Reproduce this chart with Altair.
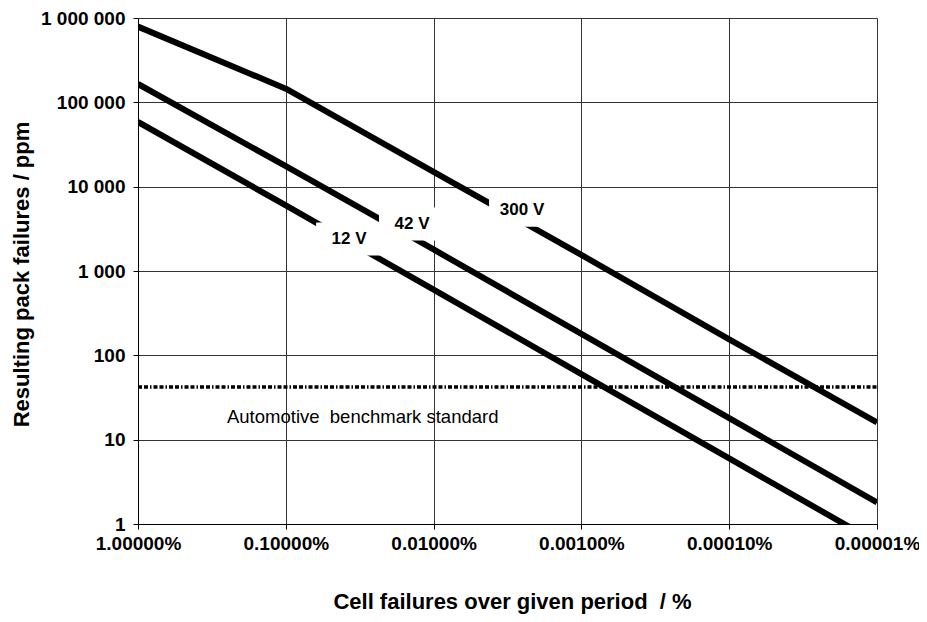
import altair as alt
import pandas as pd

# ---- data ----
cell_fail_pct = [1, 0.1, 0.01, 0.001, 0.0001, 0.00001]
pack_300v = [790000, 145000, 15000, 1550, 155, 16]
pack_42v = [165000, 17500, 1800, 180, 18, 1.8]
pack_12v = [58500, 6000, 600, 60, 6, 0.6]
series_names = ["300 V", "42 V", "12 V"]

benchmark_ppm = 42
bench_x = [1, 0.00001]
bench_text = "Automotive\u00a0 benchmark standard"
bench_text_x = 0.25
bench_text_y = 18.5

label_x = [0.00252, 0.0140, 0.0373]
label_y = [5270, 3600, 2390]

x_ticks = [1, 0.1, 0.01, 0.001, 0.0001, 0.00001]
y_ticks = [1, 10, 100, 1000, 10000, 100000, 1000000]

# ---- tables ----
rows = []
for name, vals in zip(series_names, [pack_300v, pack_42v, pack_12v]):
    for xv, yv in zip(cell_fail_pct, vals):
        rows.append({"series": name, "x": xv, "y": yv})
lines_df = pd.DataFrame(rows)
bench_df = pd.DataFrame({"x": bench_x, "y": [benchmark_ppm] * len(bench_x)})
labels_df = pd.DataFrame({"label": series_names, "x": label_x, "y": label_y})
btext_df = pd.DataFrame({"label": [bench_text], "x": [bench_text_x], "y": [bench_text_y]})

FONT = "Liberation Sans"

xscale = alt.Scale(type="log", domain=[0.00001, 1], reverse=True, nice=False)
yscale = alt.Scale(type="log", domain=[1, 1000000], nice=False)

x_axis = alt.Axis(
    values=x_ticks,
    labelExpr="format(datum.value, '.5f') + '%'",
    title="Cell failures over given period\u00a0 / %",
    grid=True, gridColor="#333333", gridWidth=1, gridOpacity=1,
    domain=True, domainColor="#000000", domainWidth=1,
    ticks=True, tickSize=5, tickColor="#000000",
    labelFont=FONT, labelFontSize=19, labelFontWeight="bold", labelColor="#000000",
    labelPadding=5, labelFlush=False, labelOverlap=False,
    titleFont=FONT, titleFontSize=22, titleFontWeight="bold", titleColor="#000000",
    titleX=374, titleY=84, titleBaseline="alphabetic", titleAlign="center",
)
y_axis = alt.Axis(
    values=y_ticks,
    labelExpr="replace(format(datum.value, ','), regexp(',', 'g'), ' ')",
    title="Resulting pack failures / ppm",
    grid=True, gridColor="#333333", gridWidth=1, gridOpacity=1,
    domain=True, domainColor="#000000", domainWidth=1,
    ticks=True, tickSize=5, tickColor="#000000",
    labelFont=FONT, labelFontSize=19, labelFontWeight="bold", labelColor="#000000",
    labelPadding=8, labelFlush=False, labelOverlap=False,
    titleFont=FONT, titleFontSize=22, titleFontWeight="bold", titleColor="#000000",
    titleX=-110, titleY=256, titleBaseline="alphabetic", titleAlign="center", titleAngle=270,
)

lines = alt.Chart(lines_df).mark_line(
    color="black", strokeWidth=6, interpolate="linear", clip=True, strokeCap="butt",
    strokeJoin="round"
).encode(
    x=alt.X("x:Q", scale=xscale, axis=x_axis),
    y=alt.Y("y:Q", scale=yscale, axis=y_axis),
    detail="series:N",
    order=alt.Order("x:Q", sort="descending"),
)

bench = alt.Chart(bench_df).mark_line(
    color="black", strokeWidth=3.5, strokeDash=[4, 2, 4, 2, 1.5, 2]
).encode(
    x=alt.X("x:Q", scale=xscale),
    y=alt.Y("y:Q", scale=yscale),
)

boxes = alt.Chart(labels_df).mark_point(
    shape="M-1,-0.5L1,-0.5L1,0.5L-1,0.5Z", filled=True, color="white",
    opacity=1, size=66 * 66, strokeWidth=0
).encode(
    x=alt.X("x:Q", scale=xscale),
    y=alt.Y("y:Q", scale=yscale),
)

texts = alt.Chart(labels_df).mark_text(
    font=FONT, fontSize=17, fontWeight="bold", color="black",
    align="center", baseline="middle"
).encode(
    x=alt.X("x:Q", scale=xscale),
    y=alt.Y("y:Q", scale=yscale),
    text="label:N",
)

btext = alt.Chart(btext_df).mark_text(
    font=FONT, fontSize=18.5, color="black", align="left", baseline="middle"
).encode(
    x=alt.X("x:Q", scale=xscale),
    y=alt.Y("y:Q", scale=yscale),
    text="label:N",
)

chart = alt.layer(lines, bench, boxes, texts, btext).properties(
    width=739, height=506,
    autosize=alt.AutoSizeParams(type="none"),
    padding={"left": 130, "top": 10, "right": 42, "bottom": 90},
    background="white",
).configure_view(strokeWidth=0)

chart.save("out.html", embed_options={"renderer": "svg", "actions": False})
